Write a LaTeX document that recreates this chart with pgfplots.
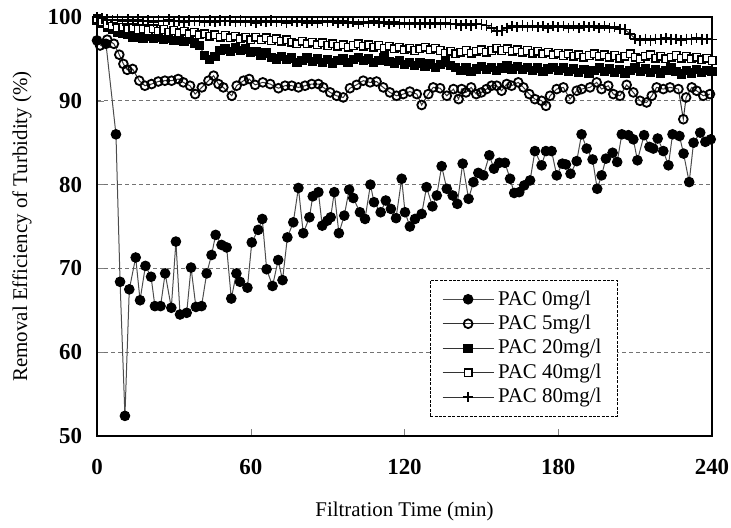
\documentclass[border=0pt]{standalone}
\usepackage{fontspec}
\setmainfont{Liberation Serif}
\usepackage{pgfplots}
\pgfplotsset{compat=1.18}
\begin{document}
\begin{tikzpicture}
\begin{axis}[
 scale only axis, width=307.5bp, height=209.5bp,
 xmin=0, xmax=240, ymin=50, ymax=100,
 xtick={0,60,...,240}, ytick={50,60,...,100},
 tick align=inside, xtick pos=bottom, ytick pos=left,
 major tick length=3.5bp,
 axis line style={line width=1.1bp},
 ymajorgrids, grid style={dash pattern=on 2bp off 1.5bp, black!55, line width=0.5bp},
 /pgf/number format/assume math mode=true,
 tick label style={font=\fontsize{11.5}{13}\selectfont\bfseries},
 xticklabel style={yshift=-8bp},
 yticklabel style={xshift=-4bp},
 xlabel={Filtration Time (min)},
 ylabel={Removal Efficiency of Turbidity (\%)},
 label style={font=\fontsize{10.5}{12}\selectfont},
 xlabel style={at={(axis description cs:0.5,-0.181)}, anchor=center},
 ylabel style={at={(axis description cs:-0.122,0.5)}, anchor=center},
 legend style={at={(rel axis cs:0.541,0.372)}, anchor=north west,
   draw=black, line width=0.4bp, dash pattern=on 1.5bp off 0.7bp,
   font=\fontsize{10.5}{12}\selectfont, row sep=-0.5bp, inner xsep=6bp, inner ysep=3bp},
 legend cell align=left,
 legend image code/.code={\draw[#1,mark repeat=2,mark phase=2] plot coordinates {(0cm,0cm) (0.45cm,0cm) (0.9cm,0cm)};},
 every axis plot/.append style={line width=0.5bp, black!80},
]
% PAC 0
\addplot[black!70, mark=*, mark size=2.4bp, mark options={black, solid}] coordinates {
(0,97.2)(3.5,96.8)(7.4,86.0)(9.0,68.4)(10.9,52.4)(12.6,67.5)(15.1,71.3)(16.8,66.2)(18.9,70.3)(21.1,69.0)
(22.6,65.5)(24.8,65.5)(26.6,69.4)(29.0,65.3)(30.8,73.2)(32.4,64.5)(35.0,64.7)(36.7,70.1)(38.6,65.4)(40.8,65.5)
(42.8,69.4)(44.7,71.6)(46.3,74.0)(48.6,72.8)(50.6,72.5)(52.4,66.4)(54.4,69.4)(55.8,68.4)(58.7,67.7)(60.4,73.1)
(62.9,74.6)(64.5,75.9)(66.2,69.9)(68.5,67.9)(70.7,71.0)(72.4,68.6)(74.3,73.7)(76.6,75.5)(78.6,79.6)(80.5,74.2)
(82.9,76.1)(84.2,78.6)(86.4,79.1)(87.9,75.1)(89.9,75.7)(91.2,76.1)(92.6,79.1)(94.4,74.2)(96.5,76.3)(98.4,79.4)
(100.0,78.4)(102.6,76.7)(104.6,75.9)(106.7,80.0)(108.1,77.9)(110.7,76.7)(112.7,78.1)(114.7,77.1)(116.7,76.0)(118.9,80.7)
(120.2,76.7)(122.1,75.0)(124.1,75.9)(126.7,76.5)(128.6,79.7)(130.9,77.4)(132.6,78.7)(134.5,82.2)(136.5,79.5)(138.8,78.7)
(140.6,77.7)(142.7,82.5)(145.0,78.3)(146.9,80.3)(148.8,81.4)(150.8,81.1)(153.1,83.5)(154.9,81.9)(157.0,82.6)(159.2,82.6)
(161.2,80.7)(162.8,79.0)(164.8,79.1)(166.7,79.9)(169.0,80.5)(170.9,84.0)(173.5,82.3)(175.2,84.0)(177.4,84.0)(179.4,81.1)
(181.6,82.5)(183.0,82.4)(184.8,81.3)(187.2,82.8)(189.1,86.0)(191.1,84.3)(193.4,83.0)(195.2,79.5)(196.9,81.1)(198.6,83.1)
(201.2,83.8)(203.0,82.7)(204.8,86.0)(207.4,85.9)(209.3,85.4)(210.9,82.9)(213.5,85.9)(215.6,84.5)(217.1,84.3)(218.8,85.5)
(221.0,84.0)(223.0,82.3)(224.6,86.0)(227.3,85.8)(228.9,83.7)(231.1,80.3)(232.8,85.0)(235.4,86.2)(237.4,85.1)(239.5,85.4)
};
\addlegendentry{PAC 0mg/l}
% PAC 5
\addplot[black!80, mark=o, mark size=2.2bp, mark options={black, fill=white, line width=0.9bp, solid}] coordinates {
(1.2,96.6)(4.0,97.3)(6.6,96.8)(8.7,95.5)(10.3,94.4)(11.8,93.7)(13.9,93.8)(16.5,92.4)(18.7,91.8)(21.3,92.0)
(23.9,92.3)(26.5,92.4)(29.1,92.4)(31.7,92.6)(33.7,92.2)(36.3,91.8)(38.3,90.8)(40.9,91.6)(43.5,92.4)(45.5,93.0)
(47.4,92.0)(49.3,91.6)(52.6,90.6)(54.5,91.8)(57.2,92.4)(59.4,92.6)(61.7,91.9)(64.7,92.2)(67.6,92.0)(70.8,91.5)
(73.4,91.8)(76.0,91.8)(78.6,91.6)(81.2,91.8)(83.8,92.0)(86.4,92.0)(88.3,91.6)(91.0,91.0)(93.5,90.6)(96.1,90.4)
(98.7,91.5)(101.3,91.9)(103.9,92.4)(106.6,92.2)(109.1,92.3)(111.7,91.6)(114.3,91.0)(116.9,90.6)(119.5,90.8)(122.1,91.1)
(124.8,90.8)(126.7,89.5)(129.3,90.8)(131.2,91.6)(133.9,91.5)(136.5,90.6)(139.1,91.4)(141.1,90.2)(142.3,91.4)(144.0,91.0)
(146.0,91.6)(148.0,90.8)(150.0,91.0)(152.0,91.4)(154.0,91.8)(156.0,91.8)(157.9,91.2)(159.9,92.0)(161.8,91.8)(164.4,92.2)
(166.4,91.6)(168.7,90.8)(170.9,90.2)(173.5,90.0)(175.2,89.4)(176.8,90.6)(179.4,91.4)(182.0,91.6)(184.6,90.2)(187.2,91.2)
(189.1,91.4)(192.4,91.6)(195.0,92.2)(196.9,91.4)(199.5,91.8)(201.5,90.8)(204.1,90.6)(206.7,91.9)(209.3,91.0)(211.9,90.0)
(214.5,89.8)(216.5,90.6)(218.4,91.6)(221.0,91.4)(223.6,91.6)(226.9,91.4)(228.8,87.8)(229.9,90.4)(232.1,91.6)(234.0,91.2)
(236.6,90.6)(239.2,90.8)
};
\addlegendentry{PAC 5mg/l}
% PAC 20
\addplot[black!80, mark=square*, mark size=2.1bp, mark options={black, solid}] coordinates {
(0,99.6)(2,99.2)(4,98.8)(6,98.5)(8,98.2)(10,98.0)(12,97.9)(14,97.6)(16,97.8)(18,97.5)
(20,97.7)(22,97.4)(24,97.6)(26,97.3)(28,97.5)(30,97.2)(32,97.4)(34,97.1)(36,97.3)(38,96.9)
(40,96.6)(42,95.4)(44,94.9)(46,95.3)(48,96.0)(50,96.2)(52,95.9)(54,96.3)(56,96.0)(58,96.2)
(60,95.8)(62,95.9)(64,95.4)(66,95.7)(68,95.2)(70,95.0)(72,95.3)(74,94.9)(76,95.1)(78,94.6)
(80,94.8)(82,95.1)(84,94.7)(86,95.0)(88,94.6)(90,94.9)(92,94.5)(94,94.8)(96,95.0)(98,94.6)
(100,94.9)(102,95.2)(104,94.8)(106,95.0)(108,94.6)(110,94.8)(112,95.1)(114,94.7)(116,94.5)(118,94.8)
(120,94.3)(122,94.6)(124,94.2)(126,94.5)(128,94.1)(130,94.4)(132,94.0)(134,94.3)(136,94.6)(138,94.2)
(140,94.0)(142,93.6)(144,93.9)(146,93.5)(148,93.8)(150,94.1)(152,93.7)(154,94.0)(156,93.6)(158,93.9)
(160,94.2)(162,93.8)(164,94.1)(166,93.7)(168,94.0)(170,93.6)(172,93.9)(174,93.5)(176,93.8)(178,94.0)
(180,93.6)(182,93.9)(184,93.5)(186,93.8)(188,93.4)(190,93.7)(192,93.3)(194,93.6)(196,93.9)(198,93.5)
(200,93.8)(202,93.4)(204,93.7)(206,93.3)(208,93.6)(210,93.9)(212,93.5)(214,93.8)(216,93.4)(218,93.7)
(220,93.3)(222,93.6)(224,93.9)(226,93.5)(228,93.2)(230,93.6)(232,93.3)(234,93.7)(236,93.4)(238,93.6)(240,93.5)
};
\addlegendentry{PAC 20mg/l}
% PAC 40
\addplot[black!80, mark=square*, mark size=1.9bp, mark options={black, fill=white, line width=0.7bp, solid}] coordinates {
(0,99.8)(2,99.4)(4,99.1)(6,98.9)(8,98.7)(10,98.8)(12,98.6)(14,98.7)(16,98.5)(18,98.6)
(20,98.4)(22,98.6)(24,98.3)(26,98.5)(28,98.2)(30,98.4)(32,98.1)(34,98.3)(36,98.0)(38,98.2)
(40,97.9)(42,98.0)(44,97.7)(46,97.9)(48,97.6)(50,97.8)(52,97.5)(54,97.7)(56,97.4)(58,97.6)
(60,97.3)(62,97.6)(64,97.3)(66,97.5)(68,97.2)(70,97.4)(72,97.1)(74,97.3)(76,97.0)(78,96.8)
(80,97.1)(82,96.8)(84,97.0)(86,96.7)(88,96.9)(90,96.6)(92,96.8)(94,96.5)(96,96.7)(98,96.4)
(100,96.6)(102,96.8)(104,96.5)(106,96.7)(108,96.4)(110,96.6)(112,96.3)(114,96.5)(116,96.2)(118,96.4)
(120,96.1)(122,96.3)(124,96.0)(126,96.2)(128,96.4)(130,96.1)(132,96.3)(134,96.0)(136,95.7)(138,95.9)
(140,95.6)(142,95.8)(144,96.0)(146,95.7)(148,95.9)(150,96.1)(152,95.8)(154,96.0)(156,96.3)(158,96.0)
(160,96.2)(162,95.9)(164,96.1)(166,95.8)(168,96.0)(170,95.7)(172,95.9)(174,95.6)(176,95.8)(178,95.5)
(180,95.7)(182,95.4)(184,95.6)(186,95.3)(188,95.5)(190,95.2)(192,95.4)(194,95.6)(196,95.3)(198,95.5)
(200,95.2)(202,95.4)(204,95.1)(206,95.3)(208,95.6)(210,95.2)(212,95.0)(214,95.3)(216,95.5)(218,95.1)
(220,95.3)(222,95.0)(224,95.2)(226,95.4)(228,95.1)(230,95.3)(232,95.0)(234,95.2)(236,94.9)(238,95.1)(240,94.8)
};
\addlegendentry{PAC 40mg/l}
% PAC 80
\addplot[black!80, mark=+, mark size=2.6bp, mark options={black, line width=0.8bp, solid}] coordinates {
(0,100.0)(2,99.8)(4,99.7)(6,99.6)(8,99.7)(10,99.5)(12,99.7)(14,99.5)(16,99.7)(18,99.5)
(20,99.6)(22,99.4)(24,99.6)(26,99.5)(28,99.7)(30,99.5)(32,99.6)(34,99.4)(36,99.6)(38,99.5)
(40,99.6)(42,99.4)(44,99.6)(46,99.4)(48,99.6)(50,99.5)(52,99.6)(54,99.4)(56,99.6)(58,99.4)
(60,99.5)(62,99.3)(64,99.5)(66,99.4)(68,99.6)(70,99.4)(72,99.5)(74,99.3)(76,99.5)(78,99.4)
(80,99.5)(82,99.3)(84,99.5)(86,99.3)(88,99.5)(90,99.4)(92,99.5)(94,99.3)(96,99.5)(98,99.3)
(100,99.4)(102,99.2)(104,99.4)(106,99.3)(108,99.5)(110,99.3)(112,99.4)(114,99.2)(116,99.4)(118,99.2)
(120,99.3)(122,99.1)(124,99.3)(126,99.1)(128,99.3)(130,99.2)(132,99.3)(134,99.1)(136,99.3)(138,99.1)
(140,99.2)(142,99.0)(144,99.2)(146,99.0)(148,99.2)(150,99.1)(152,99.0)(154,98.7)(156,98.3)(158,98.4)
(160,98.7)(162,98.9)(164,98.8)(166,99.0)(168,98.8)(170,99.0)(172,98.8)(174,98.9)(176,98.7)(178,98.9)
(180,98.8)(182,98.9)(184,98.7)(186,98.9)(188,98.7)(190,98.9)(192,98.8)(194,98.9)(196,98.7)(198,98.9)
(200,98.7)(202,98.8)(204,98.6)(206,98.5)(208,98.0)(210,97.4)(212,97.2)(214,97.4)(216,97.2)(218,97.4)
(220,97.3)(222,97.5)(224,97.3)(226,97.4)(228,97.2)(230,97.4)(232,97.3)(234,97.5)(236,97.3)(238,97.4)(240,97.3)
};
\addlegendentry{PAC 80mg/l}
\end{axis}
\pgfresetboundingbox
\path ([shift={(-48.5bp,-46bp)}]current axis.south west) rectangle ([shift={(9.5bp,8.5bp)}]current axis.north east);
\end{tikzpicture}
\end{document}
